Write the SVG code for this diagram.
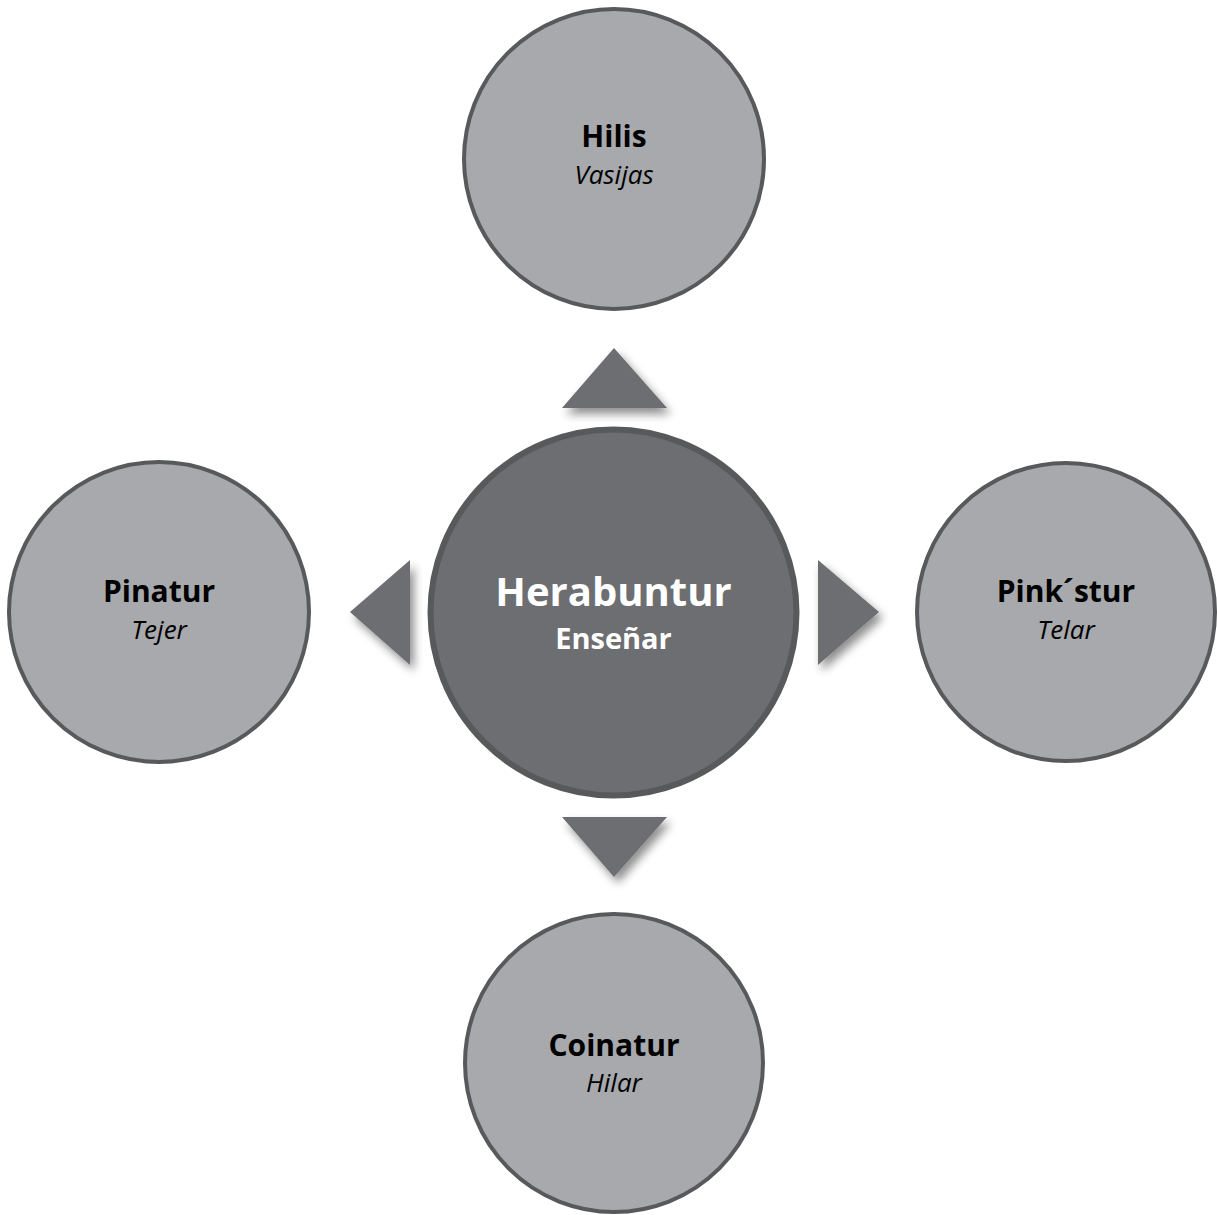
<svg xmlns="http://www.w3.org/2000/svg" width="1217" height="1215" viewBox="0 0 1217 1215">
<defs>
<filter id="sh" x="-30%" y="-30%" width="170%" height="170%">
<feGaussianBlur in="SourceAlpha" stdDeviation="5"/>
<feOffset dx="4" dy="6" result="b"/>
<feComponentTransfer><feFuncA type="linear" slope="0.45"/></feComponentTransfer>
<feMerge><feMergeNode/><feMergeNode in="SourceGraphic"/></feMerge>
</filter>
<style>
.outer{fill:#a7a9ac;stroke:#58595b;stroke-width:4}
.center{fill:#6d6e71;stroke:#58595b;stroke-width:6}
.arrow{fill:#6d6e71}
.t1{font-family:"Open Sans","Noto Sans","Liberation Sans",sans-serif;font-weight:bold;font-size:30px;fill:#000;text-anchor:middle}
.t2{font-family:"Open Sans","Noto Sans","Liberation Sans",sans-serif;font-style:italic;font-size:26px;fill:#000;text-anchor:middle}
.c1{font-family:"Open Sans","Noto Sans","Liberation Sans",sans-serif;font-weight:bold;font-size:40px;fill:#fff;text-anchor:middle}
.c2{font-family:"Open Sans","Noto Sans","Liberation Sans",sans-serif;font-weight:bold;font-size:29px;fill:#fff;text-anchor:middle}
</style>
</defs>
<rect width="1217" height="1215" fill="#fff"/>
<g id="connectors">
<polygon class="arrow" filter="url(#sh)" points="614,348 667,408 562,408"/>
<polygon class="arrow" filter="url(#sh)" points="614,877 667,817 562,817"/>
<polygon class="arrow" filter="url(#sh)" points="350,612 410,560 410,665"/>
<polygon class="arrow" filter="url(#sh)" points="879,612 818,560 818,665"/>
</g>
<g id="node-center">
<circle class="center" cx="613.5" cy="612.5" r="183"/>
<text class="c1" x="613.5" y="606">Herabuntur</text>
<text class="c2" x="613.5" y="649">Enseñar</text>
</g>
<g id="node-top">
<circle class="outer" cx="614" cy="159" r="150"/>
<text class="t1" x="614" y="147">Hilis</text>
<text class="t2" x="614" y="184">Vasijas</text>
</g>
<g id="node-left">
<circle class="outer" cx="159" cy="612" r="150"/>
<text class="t1" x="159" y="602">Pinatur</text>
<text class="t2" x="159" y="639">Tejer</text>
</g>
<g id="node-right">
<circle class="outer" cx="1066" cy="612" r="149"/>
<text class="t1" x="1066" y="602">Pink´stur</text>
<text class="t2" x="1066" y="639">Telar</text>
</g>
<g id="node-bottom">
<circle class="outer" cx="614" cy="1063" r="149"/>
<text class="t1" x="614" y="1056">Coinatur</text>
<text class="t2" x="614" y="1092">Hilar</text>
</g>
</svg>
